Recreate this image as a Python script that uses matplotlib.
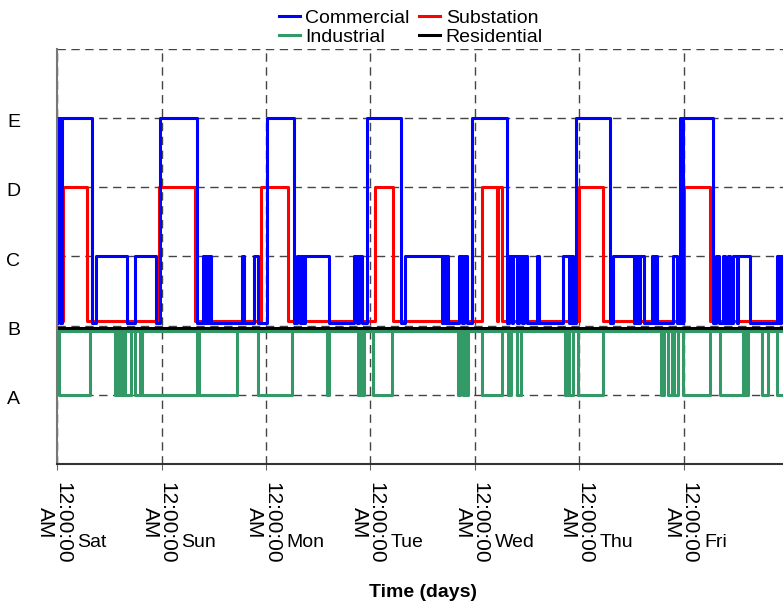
import matplotlib
matplotlib.use('Agg')
import matplotlib.pyplot as plt
from matplotlib.transforms import blended_transform_factory, ScaledTranslation

plt.rcParams['font.family'] = ['Liberation Sans', 'DejaVu Sans']

# days shown on the x axis, hours from Saturday 00:00
days = ['Sat', 'Sun', 'Mon', 'Tue', 'Wed', 'Thu', 'Fri']
day_hours = [0, 24, 48, 72, 96, 120, 144]
tick_text = '12:00:00\nAM'
levels = ['A', 'B', 'C', 'D', 'E']

# Commercial: (start h, end h, level) while above its base level
commercial_on = [
    (0.1, 0.8, 5), (1.2, 8.0, 5), (9.0, 16.0, 3), (17.9, 22.7, 3),
    (23.7, 32.1, 5), (33.6, 34.0, 3), (34.4, 34.7, 3), (35.1, 35.4, 3),
    (42.5, 42.9, 3), (45.2, 46.2, 3),
    (48.3, 54.4, 5), (55.1, 55.7, 3), (56.3, 56.6, 3), (57.0, 62.5, 3),
    (68.3, 68.8, 3), (69.4, 70.0, 3),
    (71.3, 79.0, 5), (79.9, 88.4, 3), (88.7, 89.1, 3), (89.3, 89.8, 3),
    (92.3, 92.9, 3), (93.5, 94.2, 3),
    (95.2, 103.3, 5), (103.7, 104.5, 3), (104.8, 105.6, 3), (106.2, 106.9, 3),
    (107.3, 107.9, 3), (110.2, 110.8, 3), (116.3, 117.7, 3), (118.0, 118.6, 3),
    (119.2, 126.9, 5), (127.6, 132.5, 3), (133.0, 133.5, 3), (133.9, 134.8, 3),
    (136.6, 137.0, 3), (137.4, 137.7, 3), (141.4, 142.3, 3),
    (143.1, 143.4, 5), (143.8, 150.7, 5), (151.4, 152.1, 3), (152.9, 153.4, 3),
    (154.2, 154.6, 3), (155.3, 156.1, 3), (156.5, 159.2, 3),
    (165.3, 165.8, 3), (166.3, 168.0, 3),
]
commercial_base = 2.03

# Substation: hours at level D
substation_on = [(1.3, 7.0), (23.5, 31.7), (46.8, 53.1), (73.0, 77.2),
                 (97.7, 101.0), (101.3, 102.1), (120.0, 125.3), (144.1, 150.0)]
substation_base = 2.07
substation_level = 4

# Industrial: hours at level A, otherwise just under B
industrial_low = [
    (0.5, 7.6), (13.3, 13.7), (14.0, 14.5), (14.8, 15.4), (15.6, 17.0),
    (17.9, 19.1), (19.5, 32.1), (32.7, 41.3), (46.2, 53.9), (61.9, 62.5),
    (69.2, 69.6), (70.1, 70.4), (72.6, 76.9), (92.2, 92.6), (93.2, 93.7),
    (94.1, 94.4), (97.5, 102.1), (103.5, 104.3), (105.6, 106.6),
    (116.7, 117.1), (117.6, 118.6), (119.7, 125.5), (138.7, 139.3),
    (140.4, 141.2), (141.7, 142.6), (143.8, 150.0), (152.3, 157.6),
    (158.0, 158.7), (161.9, 163.3), (165.4, 168.0),
]
industrial_high = 1.92
industrial_level = 1

residential_level = 1.96
end_hour = 168


def steps(intervals, base):
    t, y = [0], [base]
    for s, e, lv in intervals:
        t += [s, e]
        y += [lv, base]
    t.append(end_hour)
    y.append(base)
    return t, y


fig = plt.figure(figsize=(7.83, 6.03), dpi=100)
ax = fig.add_axes([57 / 783, 139 / 603, 731.5 / 783, 415.5 / 603])

ct, cy = steps(commercial_on, commercial_base)
st, sy = steps([(s, e, substation_level) for s, e in substation_on], substation_base)
it, iy = steps([(s, e, industrial_level) for s, e in industrial_low], industrial_high)

lw = 2.2
h_ind, = ax.step(it, iy, where='post', color='#339966', lw=lw, label='Industrial')
ax.plot([0, end_hour], [industrial_high] * 2, color='#339966', lw=lw)
h_res, = ax.plot([0, end_hour], [residential_level] * 2, color='black', lw=lw, label='Residential')
h_sub, = ax.step(st, sy, where='post', color='red', lw=lw, label='Substation')
h_com, = ax.step(ct, cy, where='post', color='blue', lw=lw, label='Commercial')

ax.set_xlim(0, end_hour)
ax.set_ylim(0, 6)
ax.set_yticks([1, 2, 3, 4, 5, 6])
ax.set_yticklabels(levels + [''])
ax.set_xticks(day_hours)
ax.set_xticklabels([tick_text] * len(days), rotation=270, fontsize=15,
                   multialignment='center', linespacing=0.85)
ax.tick_params(axis='y', length=0, pad=26.6, labelsize=14)
ax.tick_params(axis='x', length=4, color='#666666', pad=9)

# nudge tick labels a little (x labels left, y labels down)
shift_x = ScaledTranslation(-3 / 100, 0, fig.dpi_scale_trans)
shift_y = ScaledTranslation(0, -3 / 100, fig.dpi_scale_trans)
for lab in ax.get_xticklabels():
    lab.set_transform(lab.get_transform() + shift_x)
for lab in ax.get_yticklabels():
    lab.set_transform(lab.get_transform() + shift_y)

ax.grid(True, color='#444444', lw=1, linestyle=(0, (6, 4)))
ax.spines['top'].set_visible(False)
ax.spines['right'].set_visible(False)
ax.spines['left'].set_color('#777777')
ax.spines['bottom'].set_color('#333333')
ax.spines['left'].set_linewidth(1.5)
ax.spines['bottom'].set_linewidth(1.5)

trans = blended_transform_factory(ax.transData, ax.transAxes)
for h, name in zip(day_hours, days):
    ax.text(h + 4.6, -0.19, name, transform=trans, ha='left', va='center', fontsize=14)

ax.set_xlabel('Time (days)', fontsize=14, fontweight='bold')
ax.xaxis.set_label_coords(0.5, -0.288)

fig.legend(handles=[h_com, h_ind, h_sub, h_res], ncol=2, loc='upper center',
           bbox_to_anchor=(411 / 783, 1 - 8 / 603), frameon=False, fontsize=14,
           handlelength=1.05, handletextpad=0.3, columnspacing=0.5,
           labelspacing=0.1, borderpad=0.05, borderaxespad=0)

fig.savefig('out.png', dpi=100)
